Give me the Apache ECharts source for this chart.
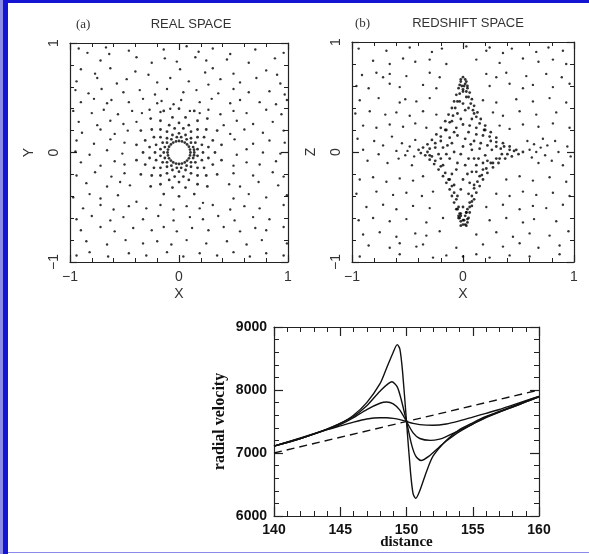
<!DOCTYPE html>
<html>
<head>
<meta charset="utf-8">
<script src="https://cdn.jsdelivr.net/npm/echarts@6/dist/echarts.min.js"></script>
<style>
  body { margin: 0; background: #fff; }
  #wrap { position: relative; width: 589px; height: 554px; overflow: hidden; }
  #chart { position: absolute; left: 0; top: 0; width: 589px; height: 554px; }
  .bar { position: absolute; z-index: 5; }
</style>
</head>
<body>
<div id="wrap">
  <div id="chart"></div>
  <div class="bar" style="left:0;top:0;width:589px;height:3px;background:#1414d2"></div>
  <div class="bar" style="left:0;top:0;width:3px;height:554px;background:#8a8ae8"></div>
  <div class="bar" style="left:3px;top:0;width:5px;height:554px;background:#1414d2"></div>
  <div class="bar" style="left:8px;top:552px;width:581px;height:1px;background:#8a8ae8"></div>
</div>
<script>
// (a) real space: scattered background galaxies
const realField = [
  [-0.92,0.95],[-0.84,0.91],[-0.67,0.96],[-0.64,0.9],[-0.46,0.93],[-0.14,0.94],[0.07,0.97],[0.18,0.92],[0.31,0.95],[0.47,0.9],[0.7,0.94],[0.96,0.91],
  [-0.72,0.84],[-0.39,0.87],[-0.25,0.82],[-0.13,0.86],[-0.02,0.83],[0.15,0.87],[0.25,0.84],[0.44,0.85],[0.64,0.82],[0.88,0.86],
  [-0.9,0.76],[-0.77,0.72],[-0.63,0.77],[-0.4,0.74],[-0.28,0.71],[0.01,0.76],[0.24,0.73],[0.31,0.77],[0.5,0.72],[0.8,0.75],[0.9,0.71],
  [-0.94,0.65],[-0.75,0.68],[-0.57,0.63],[-0.48,0.67],[-0.2,0.64],[-0.08,0.68],[0.09,0.65],[0.27,0.62],[0.38,0.67],[0.56,0.64],[0.71,0.68],[0.93,0.63],
  [-0.95,0.57],[-0.83,0.54],[-0.71,0.58],[-0.51,0.55],[-0.36,0.57],[-0.22,0.53],[-0.11,0.58],[0.04,0.55],[0.16,0.57],[0.36,0.54],[0.5,0.58],[0.64,0.55],[0.83,0.56],[0.97,0.53],
  [-0.9,0.46],[-0.78,0.49],[-0.66,0.45],[-0.62,0.48],[-0.46,0.46],[-0.33,0.49],[-0.2,0.45],[-0.16,0.47],[-0.05,0.44],[0.02,0.48],[0.19,0.46],[0.3,0.49],[0.47,0.45],[0.56,0.48],[0.74,0.46],[0.89,0.44],[0.99,0.48],
  [-0.97,0.38],[-0.8,0.36],[-0.69,0.39],[-0.56,0.35],[-0.43,0.38],[-0.34,0.36],[-0.27,0.39],[-0.17,0.37],[-0.08,0.4],[0.1,0.38],[0.19,0.36],[0.27,0.39],[0.38,0.35],[0.5,0.38],[0.62,0.36],[0.8,0.39],[0.94,0.35],
  [-0.92,0.28],[-0.75,0.25],[-0.63,0.29],[-0.51,0.26],[-0.39,0.28],[0.41,0.25],[0.53,0.29],[0.68,0.26],[0.86,0.28],
  [-0.89,0.18],[-0.72,0.21],[-0.59,0.17],[-0.47,0.2],[0.47,0.17],[0.6,0.21],[0.77,0.18],[0.96,0.2],
  [-0.94,0.11],[-0.78,0.08],[-0.63,0.12],[-0.5,0.09],[0.51,0.12],[0.68,0.08],[0.83,0.11],[0.97,0.09],
  [-0.95,0.01],[-0.82,-0.02],[-0.66,0.02],[-0.52,-0.01],[0.53,-0.02],[0.62,0.03],[0.77,0],[0.93,-0.01],
  [-0.9,-0.09],[-0.72,-0.12],[-0.59,-0.08],[-0.5,-0.11],[0.5,-0.12],[0.62,-0.09],[0.74,-0.11],[0.89,-0.08],
  [-0.94,-0.21],[-0.77,-0.18],[-0.62,-0.22],[-0.5,-0.19],[0.5,-0.19],[0.68,-0.21],[0.86,-0.18],[0.96,-0.22],
  [-0.85,-0.28],[-0.66,-0.31],[-0.54,-0.27],[-0.45,-0.3],[0.46,-0.29],[0.56,-0.31],[0.73,-0.27],[0.91,-0.3],
  [-0.97,-0.41],[-0.82,-0.38],[-0.72,-0.42],[-0.56,-0.39],[-0.39,-0.45],[0.22,-0.46],[0.5,-0.42],[0.64,-0.38],[0.8,-0.41],[0.99,-0.39],
  [-0.88,-0.51],[-0.72,-0.48],[-0.6,-0.52],[-0.46,-0.49],[-0.3,-0.51],[-0.17,-0.48],[-0.05,-0.52],[0.07,-0.49],[0.19,-0.51],[0.31,-0.48],[0.47,-0.52],[0.6,-0.49],[0.74,-0.51],[0.96,-0.48],
  [-0.94,-0.61],[-0.8,-0.58],[-0.63,-0.62],[-0.51,-0.59],[-0.33,-0.61],[-0.19,-0.58],[-0.05,-0.62],[0.1,-0.59],[0.22,-0.61],[0.36,-0.58],[0.51,-0.62],[0.68,-0.59],[0.83,-0.61],
  [-0.9,-0.71],[-0.72,-0.68],[-0.59,-0.72],[-0.42,-0.69],[-0.25,-0.71],[-0.14,-0.68],[-0.02,-0.72],[0.12,-0.69],[0.27,-0.71],[0.41,-0.68],[0.56,-0.72],[0.7,-0.69],[0.8,-0.71],[0.96,-0.68],
  [-0.85,-0.81],[-0.66,-0.84],[-0.49,-0.8],[-0.33,-0.83],[-0.2,-0.81],[-0.07,-0.84],[0.07,-0.8],[0.25,-0.83],[0.44,-0.81],[0.62,-0.84],[0.76,-0.8],[0.99,-0.83],
  [-0.94,-0.94],[-0.82,-0.91],[-0.65,-0.95],[-0.46,-0.92],[-0.3,-0.94],[-0.11,-0.91],[0.04,-0.95],[0.19,-0.92],[0.35,-0.94],[0.5,-0.91],[0.65,-0.95],[0.8,-0.92],[0.96,-0.94]
];
// (a) shells collapsing round the cluster centre
const realRings = [
  [0.105,0],[0.101,0.027],[0.091,0.053],[0.074,0.074],[0.053,0.091],[0.027,0.101],[0,0.105],[-0.027,0.101],[-0.053,0.091],[-0.074,0.074],[-0.091,0.053],[-0.101,0.027],
  [-0.105,0],[-0.101,-0.027],[-0.091,-0.053],[-0.074,-0.074],[-0.053,-0.091],[-0.027,-0.101],[0,-0.105],[0.027,-0.101],[0.053,-0.091],[0.074,-0.074],[0.091,-0.053],[0.101,-0.027],
  [0.14,0],[0.138,0.025],[0.13,0.05],[0.11,0.09],[0.07,0.12],[0.02,0.14],[-0.02,0.14],[-0.07,0.12],[-0.11,0.09],[-0.13,0.05],[-0.14,0],[-0.13,-0.05],[-0.11,-0.09],
  [-0.07,-0.12],[-0.02,-0.14],[0.02,-0.14],[0.07,-0.12],[0.11,-0.09],[0.13,-0.05],[0.138,-0.025],
  [0.17,0.03],[0.15,0.09],[0.11,0.13],[0.06,0.16],[0,0.175],[-0.06,0.16],[-0.11,0.13],[-0.15,0.09],[-0.17,0.03],[-0.17,-0.03],[-0.15,-0.09],[-0.11,-0.13],
  [-0.06,-0.16],[0,-0.175],[0.06,-0.16],[0.11,-0.13],[0.15,-0.09],[0.17,-0.03],
  [0.22,0],[0.21,0.07],[0.17,0.14],[0.11,0.19],[0.04,0.22],[-0.04,0.22],[-0.11,0.19],[-0.17,0.14],[-0.21,0.07],[-0.22,0],[-0.21,-0.07],[-0.17,-0.14],
  [-0.11,-0.19],[-0.04,-0.22],[0.04,-0.22],[0.11,-0.19],[0.17,-0.14],[0.21,-0.07],
  [0.27,0.05],[0.23,0.14],[0.17,0.21],[0.09,0.25],[0,0.27],[-0.09,0.25],[-0.17,0.21],[-0.23,0.14],[-0.27,0.05],[-0.27,-0.05],[-0.23,-0.14],[-0.17,-0.21],
  [-0.09,-0.25],[0,-0.27],[0.09,-0.25],[0.17,-0.21],[0.23,-0.14],[0.27,-0.05],
  [0.33,0],[0.31,0.11],[0.25,0.21],[0.17,0.29],[0.06,0.32],[-0.06,0.32],[-0.17,0.29],[-0.25,0.21],[-0.31,0.11],[-0.33,0],[-0.31,-0.11],[-0.25,-0.21],
  [-0.17,-0.29],[-0.06,-0.32],[0.06,-0.32],[0.17,-0.29],[0.25,-0.21],[0.31,-0.11],
  [0.39,0.07],[0.35,0.2],[0.26,0.31],[0.14,0.38],[0,0.4],[-0.14,0.38],[-0.26,0.31],[-0.35,0.2],[-0.39,0.07],[-0.39,-0.07],[-0.35,-0.2],[-0.26,-0.31],
  [-0.14,-0.38],[0,-0.4],[0.14,-0.38],[0.26,-0.31],[0.35,-0.2],[0.39,-0.07]
];
// (b) redshift space: background field
const zField = [
  [-0.94,0.94],[-0.69,0.92],[-0.48,0.95],[-0.28,0.91],[-0.19,0.94],[0.03,0.96],[0.21,0.92],[0.24,0.95],[0.36,0.9],[0.44,0.94],[0.66,0.91],[0.77,0.95],[0.9,0.92],
  [-0.81,0.83],[-0.66,0.8],[-0.54,0.85],[-0.43,0.82],[-0.3,0.84],[-0.15,0.8],[0.12,0.84],[0.33,0.81],[0.54,0.85],[0.68,0.82],[0.81,0.84],[0.93,0.8],
  [-0.91,0.7],[-0.78,0.72],[-0.72,0.68],[-0.66,0.71],[-0.51,0.69],[-0.3,0.72],[-0.21,0.68],[0.21,0.71],[0.3,0.68],[0.39,0.72],[0.57,0.69],[0.75,0.71],[0.89,0.68],
  [-0.96,0.6],[-0.85,0.58],[-0.66,0.62],[-0.57,0.59],[-0.36,0.61],[-0.24,0.58],[0.24,0.6],[0.42,0.62],[0.54,0.58],[0.63,0.61],[0.81,0.59],[0.96,0.62],
  [-0.93,0.47],[-0.76,0.49],[-0.57,0.45],[-0.52,0.48],[-0.42,0.46],[-0.3,0.49],[0.18,0.47],[0.3,0.45],[0.48,0.48],[0.63,0.46],[0.78,0.49],[0.93,0.45],
  [-0.97,0.35],[-0.84,0.37],[-0.7,0.34],[-0.6,0.36],[-0.48,0.33],[-0.36,0.37],[-0.24,0.34],[0.27,0.36],[0.36,0.33],[0.51,0.37],[0.66,0.34],[0.84,0.36],
  [-0.9,0.24],[-0.78,0.22],[-0.66,0.25],[-0.54,0.23],[-0.43,0.26],[-0.33,0.22],[0.33,0.24],[0.42,0.21],[0.54,0.25],[0.68,0.23],[0.81,0.26],[0.96,0.22],
  [-0.95,0.12],[-0.9,0.02],[-0.86,-0.08],[-0.8,0.1],[-0.76,-0.02],[-0.72,0.06],[-0.68,-0.1],[-0.64,0.14],[-0.6,0.01],[-0.58,-0.06],[-0.55,0.08],[-0.52,-0.03],
  [-0.48,0.05],[-0.46,-0.12],[-0.43,0.11],[-0.44,-0.04],[-0.5,0.01],
  [0.58,0.1],[0.6,0.02],[0.62,-0.05],[0.64,0.07],[0.66,0.0],[0.68,-0.1],[0.7,0.04],[0.72,0.12],[0.74,-0.03],[0.76,0.06],[0.8,-0.08],[0.83,0.1],[0.86,0.0],
  [0.9,-0.12],[0.94,0.05],[0.97,-0.04],
  [-0.93,-0.25],[-0.81,-0.23],[-0.69,-0.27],[-0.57,-0.24],[-0.45,-0.26],[-0.36,-0.22],[0.39,-0.25],[0.51,-0.22],[0.63,-0.26],[0.78,-0.23],[0.93,-0.27],
  [-0.96,-0.38],[-0.78,-0.36],[-0.63,-0.39],[-0.51,-0.37],[-0.37,-0.4],[-0.27,-0.36],[0.3,-0.38],[0.42,-0.4],[0.54,-0.36],[0.66,-0.39],[0.81,-0.37],[0.96,-0.4],
  [-0.87,-0.5],[-0.72,-0.48],[-0.6,-0.52],[-0.45,-0.49],[-0.3,-0.51],[0.21,-0.5],[0.36,-0.48],[0.51,-0.52],[0.63,-0.49],[0.75,-0.51],[0.9,-0.48],
  [-0.94,-0.62],[-0.81,-0.6],[-0.66,-0.63],[-0.51,-0.61],[-0.33,-0.64],[-0.18,-0.6],[0.24,-0.62],[0.39,-0.6],[0.54,-0.64],[0.64,-0.61],[0.84,-0.63],
  [-0.9,-0.75],[-0.75,-0.73],[-0.6,-0.77],[-0.43,-0.74],[-0.33,-0.76],[-0.21,-0.72],[0.12,-0.75],[0.3,-0.73],[0.45,-0.77],[0.6,-0.74],[0.78,-0.76],[0.95,-0.72],
  [-0.85,-0.85],[-0.66,-0.87],[-0.57,-0.83],[-0.42,-0.86],[-0.36,-0.84],[-0.06,-0.87],[0.18,-0.84],[0.36,-0.86],[0.51,-0.83],[0.68,-0.87],[0.87,-0.85],
  [-0.93,-0.95],[-0.57,-0.93],[-0.27,-0.96],[-0.15,-0.94],[0,-0.95],[0.12,-0.93],[0.24,-0.96],[0.42,-0.94],[0.6,-0.95],[0.87,-0.93]
];
// (b) the caustic "finger" of the infalling shells, edges and interior
const zCaustic = [
  [0.02,0.66],[0.04,0.6],[0.06,0.54],[0.08,0.48],[0.1,0.42],[0.13,0.36],[0.16,0.3],[0.2,0.24],[0.25,0.18],[0.3,0.13],[0.36,0.08],[0.42,0.05],[0.48,0.02],[0.54,0.0],
  [-0.02,0.64],[-0.04,0.58],[-0.06,0.52],[-0.08,0.46],[-0.1,0.4],[-0.13,0.34],[-0.16,0.28],[-0.2,0.22],[-0.24,0.16],[-0.28,0.11],[-0.32,0.07],[-0.36,0.04],[-0.4,0.02],
  [-0.38,-0.01],[-0.34,-0.03],[-0.3,-0.07],[-0.26,-0.11],[-0.22,-0.16],[-0.18,-0.22],[-0.15,-0.28],[-0.12,-0.34],[-0.1,-0.4],[-0.08,-0.46],[-0.06,-0.52],[-0.04,-0.58],[-0.02,-0.63],
  [0.5,-0.02],[0.44,-0.04],[0.38,-0.06],[0.32,-0.1],[0.27,-0.14],[0.22,-0.19],[0.18,-0.25],[0.15,-0.31],[0.12,-0.37],[0.1,-0.43],[0.08,-0.49],[0.06,-0.55],[0.04,-0.61],[0.02,-0.66],
  [0.01,0.6],[0.03,0.55],[0.05,0.5],[0.07,0.44],[0.09,0.38],[0.12,0.32],[0.15,0.26],[0.19,0.2],[0.24,0.14],[0.3,0.09],[0.37,0.05],
  [-0.3,-0.03],[-0.25,-0.08],[-0.2,-0.13],[-0.16,-0.19],[-0.13,-0.25],[-0.1,-0.31],[-0.08,-0.37],[-0.06,-0.43],[-0.04,-0.5],[-0.02,-0.56],
  [0.4,-0.02],[0.33,-0.06],[0.27,-0.1],[0.21,-0.15],[0.17,-0.21],[0.13,-0.27],[0.1,-0.33],[0.08,-0.4],[0.06,-0.46],[0.04,-0.52],[0.02,-0.58],
  [-0.3,0.03],[-0.25,0.08],[-0.2,0.14],[-0.16,0.2],[-0.12,0.27],[-0.09,0.33],[-0.07,0.4],[-0.05,0.46],[-0.03,0.53],
  [-0.04,-0.6],[0.01,-0.62],[0.05,-0.6],[-0.03,-0.56],[0.03,-0.55],[-0.05,-0.52],[0.06,-0.5],[0,-0.66],[0.03,-0.67],[-0.02,-0.67],
  [0,0.68],[-0.02,0.66],[0.03,0.64],[-0.03,0.61],[0.04,0.58],[0,0.57],
  [0,0.55],[0.03,0.5],[-0.03,0.46],[0.05,0.4],[-0.05,0.35],[0.08,0.3],[-0.1,0.28],[0.12,0.22],[-0.15,0.2],[0,0.25],[0.05,0.18],[-0.05,0.15],[0.18,0.15],
  [-0.2,0.1],[0.25,0.1],[0.1,0.1],[-0.1,0.08],[0.3,0.05],[-0.25,0.04],[0.15,0.03],[0,0.05],[-0.15,-0.02],[0.2,-0.03],[0.35,-0.02],[-0.28,-0.04],[0.05,-0.06],
  [-0.05,-0.1],[0.12,-0.12],[-0.18,-0.12],[0.25,-0.1],[0.08,-0.18],[-0.1,-0.2],[0.15,-0.22],[0,-0.25],[-0.08,-0.3],[0.1,-0.3],[0.05,-0.38],[-0.05,-0.4],
  [0.08,-0.45],[0,-0.5],[0.03,-0.55],[-0.02,-0.58],[0.02,0.62],[-0.01,0.6],[0.04,-0.64],[0,-0.62],[-0.03,-0.6],
  [0.2,0.2],[-0.12,0.13],[0.07,0.07],[0.14,-0.06],[-0.08,0],[0.3,-0.06],[0.42,0.02],[-0.2,-0.06],[0.1,0.35],[-0.02,0.3],[0.18,-0.16],[-0.12,-0.25],
  [0.04,-0.2],[0.22,0.06],[-0.32,0],[0.46,0.01],
  [-0.18,0.04],[-0.08,0.18],[0.02,0.12],[0.12,0.16],[0.16,0.08],[0.26,0.02],[0.08,0.02],[-0.02,-0.02],[-0.12,-0.06],[0.1,-0.06],[0.22,-0.08],[-0.06,-0.16],
  [0.02,-0.12],[0.12,-0.18],[-0.02,-0.34],[0.06,-0.28],[0.02,0.38],[0.06,0.24],[-0.06,0.22],[0.0,0.44],[-0.14,0.06],[0.34,0.03],[-0.22,-0.02],[0.18,-0.1]
];
// radial velocity vs distance
const hubbleFlow = [[140,7000],[160,8000]];
const infall1 = [[140,7110],[142,7230],[144,7380],[145,7470],[146,7600],[147,7800],[148,8100],[148.5,8350],[149,8600],[149.3,8720],[149.5,8650],[149.7,8300],
  [150,7500],[150.3,6700],[150.5,6350],[150.7,6280],[151,6400],[151.5,6700],[152,6950],[153,7200],[154,7370],[155,7480],[156,7580],[157,7660],[158,7740],[159,7820],[160,7900]];
const infall2 = [[140,7110],[142,7230],[144,7380],[145,7470],[146,7580],[147,7750],[148,7980],[148.9,8130],[149.3,8050],[149.6,7850],[150,7500],
  [150.4,7120],[150.7,6950],[151.1,6880],[151.7,6950],[152.5,7100],[153,7190],[154,7340],[155,7460],[156,7570],[157,7650],[158,7730],[159,7810],[160,7890]];
const infall3 = [[140,7110],[142,7230],[144,7370],[145,7450],[146,7560],[147,7690],[148,7790],[148.5,7810],[149,7780],[149.5,7680],[150,7500],
  [150.5,7320],[151,7230],[151.8,7200],[152.5,7220],[153,7260],[154,7360],[155,7460],[156,7560],[157,7650],[158,7730],[159,7810],[160,7890]];
const infall4 = [[140,7110],[142,7240],[144,7370],[145,7430],[146,7490],[147,7540],[148,7560],[148.5,7560],[149,7550],[149.5,7530],[150,7500],
  [150.5,7470],[151,7450],[152,7440],[153,7460],[154,7510],[155,7570],[156,7630],[157,7690],[158,7760],[159,7830],[160,7900]];

const chart = echarts.init(document.getElementById('chart'), null, { renderer: 'canvas' })
const minus = (v) => String(v).replace('-', '\u2212')
const thin = { fontFamily: 'Liberation Sans', fontSize: 14, color: '#333' }

function boxAxes(grid, min, max, step, labels, name, isX) {
  // one labelled axis plus a mirror axis for the ticks on the opposite side
  const common = {
    gridIndex: grid, type: 'value', min: min, max: max, interval: step,
    axisLine: { onZero: false, lineStyle: { color: '#222', width: 1.2 } },
    axisTick: { inside: true, length: 7, lineStyle: { color: '#222', width: 1.2 } },
    minorTick: { show: true, splitNumber: 5, length: 4, lineStyle: { color: '#222', width: 1 } },
    splitLine: { show: false },
  }
  const main = Object.assign({}, common, {
    position: isX ? 'bottom' : 'left',
    name: name, nameLocation: 'middle', nameMoveOverlap: false,
    axisLabel: labels,
  })
  const mirror = Object.assign({}, common, {
    position: isX ? 'top' : 'right',
    axisLabel: { show: false },
  })
  return [main, mirror]
}

const topXLabel = Object.assign({ margin: 8, formatter: minus }, thin)
const topYLabel = Object.assign({ margin: 9, rotate: 90, formatter: minus }, thin)
const botXLabel = { margin: 7, fontFamily: 'Liberation Sans', fontWeight: 'bold', fontSize: 14, color: '#111', formatter: (v) => String(v) }
const botYLabel = { margin: 7, fontFamily: 'Liberation Sans', fontWeight: 'bold', fontSize: 14, color: '#111', formatter: (v) => String(v) }

const xa = boxAxes(0, -1, 1, 1, topXLabel, 'X', true)
const ya = boxAxes(0, -1, 1, 1, topYLabel, 'Y', false)
const xb = boxAxes(1, -1, 1, 1, topXLabel, 'X', true)
const yb = boxAxes(1, -1, 1, 1, topYLabel, 'Z', false)
const xc = boxAxes(2, 140, 160, 5, botXLabel, 'distance', true)
const yc = boxAxes(2, 6000, 9000, 1000, botYLabel, 'radial velocity', false)
xa[0].nameGap = 25; xa[0].nameTextStyle = thin
xb[0].nameGap = 25; xb[0].nameTextStyle = thin
ya[0].nameGap = 34; ya[0].nameTextStyle = thin
yb[0].nameGap = 34; yb[0].nameTextStyle = thin
xc[0].nameGap = 19
xc[0].nameTextStyle = { fontFamily: 'Liberation Serif', fontWeight: 'bold', fontSize: 15, color: '#111' }
yc[0].nameGap = 46
yc[0].nameTextStyle = { fontFamily: 'Liberation Serif', fontWeight: 'bold', fontSize: 16, color: '#111' }
xc[0].axisTick = { inside: true, length: 9, lineStyle: { color: '#222', width: 1.2 } }
xc[1].axisTick = xc[0].axisTick
yc[0].axisTick = xc[0].axisTick
yc[1].axisTick = xc[0].axisTick
xc.forEach(a => { a.minorTick = Object.assign({}, a.minorTick, { length: 5 }) })
yc.forEach(a => { a.minorTick = Object.assign({}, a.minorTick, { length: 5 }) })

const dot = { color: '#000' }
const lineStyle = { color: '#111', width: 1.4 }

chart.setOption({
  backgroundColor: '#fff',
  animation: false,
  title: [
    { text: '(a)', left: 71, top: 13, textStyle: { fontFamily: 'Liberation Serif', fontSize: 13, fontWeight: 'normal', color: '#333' } },
    { text: 'REAL SPACE', left: 186, top: 13, textAlign: 'center', textStyle: { fontFamily: 'Liberation Sans', fontSize: 13, fontWeight: 'normal', color: '#333' } },
    { text: '(b)', left: 350, top: 12, textStyle: { fontFamily: 'Liberation Serif', fontSize: 13, fontWeight: 'normal', color: '#333' } },
    { text: 'REDSHIFT SPACE', left: 463, top: 12, textAlign: 'center', textStyle: { fontFamily: 'Liberation Sans', fontSize: 13, fontWeight: 'normal', color: '#333' } },
  ],
  grid: [
    { left: 70, top: 43, width: 218, height: 219 },
    { left: 352, top: 42, width: 222, height: 220 },
    { left: 274, top: 327, width: 265, height: 189 },
  ],
  xAxis: [xa[0], xa[1], xb[0], xb[1], xc[0], xc[1]],
  yAxis: [ya[0], ya[1], yb[0], yb[1], yc[0], yc[1]],
  series: [
    { type: 'scatter', xAxisIndex: 0, yAxisIndex: 0, data: realField, symbolSize: 2.4, itemStyle: dot },
    { type: 'scatter', xAxisIndex: 0, yAxisIndex: 0, data: realRings, symbolSize: 2.8, itemStyle: dot },
    { type: 'scatter', xAxisIndex: 2, yAxisIndex: 2, data: zField, symbolSize: 2.4, itemStyle: dot },
    { type: 'scatter', xAxisIndex: 2, yAxisIndex: 2, data: zCaustic, symbolSize: 2.8, itemStyle: dot },
    { type: 'line', xAxisIndex: 4, yAxisIndex: 4, data: hubbleFlow, showSymbol: false,
      lineStyle: { color: '#111', width: 1.4, type: [8, 5] } },
    { type: 'line', xAxisIndex: 4, yAxisIndex: 4, data: infall1, showSymbol: false, smooth: 0.25, lineStyle: lineStyle },
    { type: 'line', xAxisIndex: 4, yAxisIndex: 4, data: infall2, showSymbol: false, smooth: 0.25, lineStyle: lineStyle },
    { type: 'line', xAxisIndex: 4, yAxisIndex: 4, data: infall3, showSymbol: false, smooth: 0.25, lineStyle: lineStyle },
    { type: 'line', xAxisIndex: 4, yAxisIndex: 4, data: infall4, showSymbol: false, smooth: 0.25, lineStyle: lineStyle },
  ],
})
</script>
</body>
</html>
